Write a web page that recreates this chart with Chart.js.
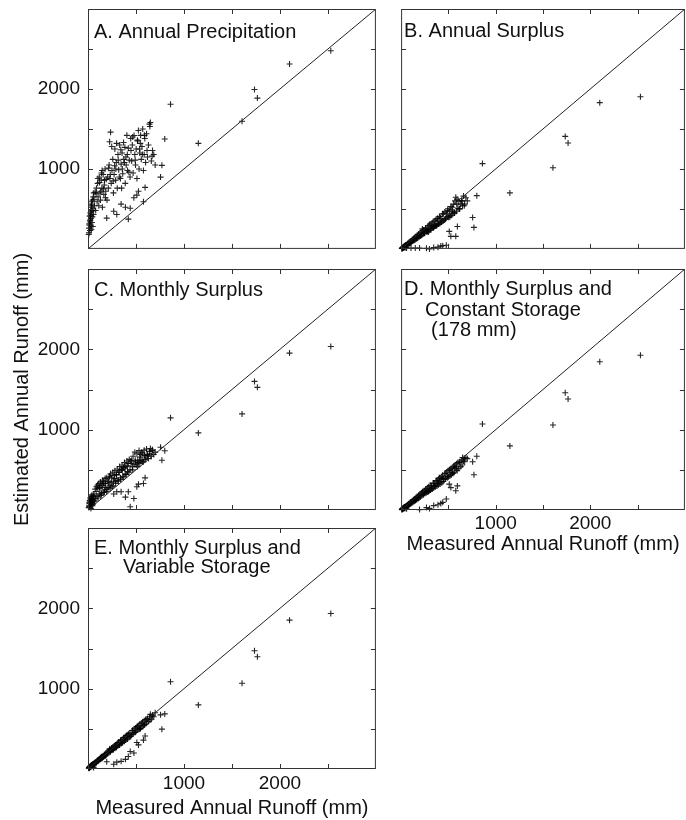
<!DOCTYPE html>
<html>
<head>
<meta charset="utf-8">
<script src="https://cdn.jsdelivr.net/npm/chart.js@4.4.1/dist/chart.umd.min.js"></script>
<style>
  html, body { margin: 0; padding: 0; background: #fff; overflow: hidden; }
  body { width: 686px; height: 820px; position: relative; }
  canvas { position: absolute; }
</style>
</head>
<body>
<canvas id="panelA"></canvas>
<canvas id="panelB"></canvas>
<canvas id="panelC"></canvas>
<canvas id="panelD"></canvas>
<canvas id="panelE"></canvas>
<script>
// measured annual runoff (mm) per basin, same basins in every panel
const measured = [
  8, 12, 15, 18, 20, 22, 25, 28, 30, 32, 35, 38, 40, 42, 45, 48, 50, 52, 55, 58, 10, 14, 24, 34, 44, 27, 36, 60,
  195, 268, 300, 345, 390, 420, 440, 478, 509, 526, 578, 595,
  62, 68, 75, 80, 88, 95, 100, 105, 112, 118, 125, 130, 138, 145, 150, 158, 165, 170, 178, 185, 190, 198, 85, 120, 160, 140,
  205, 212, 220, 228, 235, 242, 250, 258, 265, 272, 280, 288, 295, 305, 312, 320, 330, 338, 345, 355, 362, 370, 380, 388, 395, 405, 412, 420, 430, 438, 445, 225, 290, 350,
  455, 462, 470, 480, 488, 495, 502, 510, 518, 525, 532, 540, 548, 555, 562, 570, 578, 585, 592, 600, 610, 620, 630, 640, 650, 660, 672, 685, 700, 545,
  103, 133, 147, 172, 182, 215, 232, 247, 262, 277, 298, 315, 326, 342, 358, 373, 384, 398, 410, 426, 448, 466, 492, 515, 538, 566, 588, 615, 645, 668,
  756, 770, 800, 860, 1150, 1605, 1735, 1765, 2100, 2530
];

// A. estimated from annual precipitation
const estPrecip = [
  180, 260, 320, 410, 230, 350, 450, 290, 380, 520, 240, 470, 330, 560, 400, 610, 280, 500, 650, 430, 200, 300, 360, 540, 480, 420, 590, 700,
  385, 470, 430, 560, 520, 372, 508, 640, 673, 720, 590, 769,
  620, 540, 710, 480, 760, 590, 820, 650, 540, 900, 700, 610, 860, 760, 520, 930, 680, 800, 1000, 720, 870, 610, 690, 830, 750, 950,
  900, 760, 1050, 880, 1460, 820, 980, 1120, 700, 930, 1250, 860, 1080, 760, 1180, 990, 1300, 880, 1060, 1200, 940, 1330, 1080, 820, 1150, 1420, 980, 1260, 1110, 900, 1380, 1340, 1000, 760,
  1100, 1300, 950, 1418, 1180, 1050, 1250, 880, 1350, 1480, 1000, 1200, 1420, 1120, 1280, 1500, 980, 1180, 1380, 1080, 1440, 1150, 1300, 1560, 1580, 1100, 1230, 1180, 1050, 1320,
  880, 720, 980, 860, 640, 1010, 930, 1280, 850, 1040, 1320, 1110, 900, 1240, 1000, 1120, 1270, 1050, 1180, 960, 1230, 1400, 1110, 1360, 1250, 1180, 1420, 1230, 1530, 1160,
  898, 1045, 1374, 1808, 1320, 1597, 1994, 1886, 2313, 2478
];

// B. annual surplus
const estAnnualSurplus = [
  5, 10, 8, 15, 20, 12, 18, 25, 22, 30, 28, 35, 15, 40, 38, 45, 20, 48, 50, 10, 6, 12, 26, 30, 35, 24, 32, 55,
  12, 8, 0, 18, 22, 35, 40, 45, 219, 157, 157, 280,
  45, 66, 55, 80, 68, 92, 78, 12, 88, 118, 98, 128, 108, 142, 10, 155, 130, 170, 140, 182, 150, 195, 70, 100, 128, 132,
  160, 210, 175, 228, 190, 235, 200, 262, 215, 240, 225, 290, 230, 310, 245, 290, 260, 340, 270, 300, 285, 372, 295, 350, 310, 405, 320, 380, 335, 440, 350, 250, 210, 280,
  360, 460, 380, 440, 400, 500, 395, 470, 420, 530, 420, 490, 440, 560, 450, 600, 645, 470, 620, 510, 600, 500, 560, 600, 540, 660, 560, 640, 600, 470,
  80, 128, 112, 140, 180, 170, 230, 195, 260, 215, 295, 250, 325, 265, 350, 290, 382, 310, 400, 335, 440, 370, 480, 400, 520, 450, 560, 500, 600, 540,
  393, 269, 666, 1067, 700, 1014, 1407, 1324, 1829, 1903
];

// C. monthly surplus
const estMonthlySurplus = [
  30, 60, 90, 120, 45, 150, 80, 110, 20, 170, 65, 130, 95, 190, 55, 140, 100, 75, 160, 125, 40, 85, 105, 135, 70, 115, 145, 180,
  230, 200, 227, 227, 160, 227, 41, 144, 289, 322, 330, 400,
  200, 110, 260, 140, 290, 170, 310, 150, 330, 200, 270, 350, 190, 300, 370, 220, 330, 250, 390, 280, 400, 260, 230, 280, 350, 210,
  360, 280, 410, 310, 450, 340, 290, 470, 350, 430, 490, 330, 440, 510, 370, 470, 540, 400, 500, 560, 420, 530, 590, 450, 540, 610, 480, 580, 630, 500, 610, 420, 360, 500,
  620, 540, 670, 570, 720, 600, 560, 700, 620, 590, 740, 580, 690, 720, 620, 710, 600, 745, 660, 630, 760, 680, 640, 730, 765, 670, 750, 690, 720, 620,
  270, 180, 310, 220, 330, 350, 270, 400, 300, 390, 440, 360, 470, 380, 500, 410, 520, 440, 550, 470, 580, 500, 620, 540, 660, 600, 680, 690, 700, 740,
  782, 620, 737, 1147, 960, 1196, 1601, 1527, 1953, 2035
];

// D. monthly surplus and constant storage (178 mm)
const estConstStorage = [
  5, 12, 10, 18, 15, 20, 22, 28, 25, 30, 32, 35, 20, 38, 40, 42, 30, 45, 48, 15, 8, 14, 24, 32, 38, 26, 34, 55,
  5, 30, 20, 55, 65, 80, 95, 136, 322, 279, 239, 300,
  45, 64, 55, 78, 68, 92, 78, 100, 88, 115, 98, 128, 108, 140, 118, 155, 130, 168, 140, 180, 150, 194, 72, 102, 132, 128,
  165, 210, 180, 225, 190, 240, 205, 258, 215, 265, 225, 288, 235, 305, 250, 300, 262, 335, 275, 330, 290, 368, 300, 370, 315, 400, 325, 390, 340, 432, 355, 228, 230, 300,
  380, 455, 390, 470, 400, 490, 415, 500, 430, 515, 440, 530, 455, 545, 470, 560, 520, 575, 490, 590, 520, 600, 540, 620, 652, 610, 600, 650, 640, 470,
  85, 125, 120, 160, 150, 205, 195, 240, 220, 265, 250, 305, 270, 330, 300, 360, 330, 390, 350, 415, 390, 455, 420, 495, 460, 540, 510, 590, 560, 645,
  600, 438, 670, 1071, 798, 1059, 1460, 1381, 1845, 1927
];

// E. monthly surplus and variable storage
const estVarStorage = [
  10, 15, 20, 25, 18, 30, 28, 35, 32, 40, 38, 45, 30, 50, 48, 55, 42, 58, 62, 20, 12, 22, 35, 40, 52, 36, 46, 70,
  90, 60, 85, 95, 120, 155, 218, 200, 330, 300, 360, 410,
  58, 78, 70, 86, 82, 102, 95, 112, 105, 125, 118, 140, 130, 155, 140, 165, 152, 180, 165, 192, 178, 208, 80, 128, 150, 150,
  190, 225, 205, 240, 220, 255, 232, 270, 245, 285, 258, 300, 270, 318, 290, 335, 300, 350, 318, 365, 330, 385, 345, 400, 362, 420, 375, 430, 395, 450, 405, 250, 270, 330,
  430, 480, 440, 500, 455, 510, 470, 525, 485, 540, 495, 560, 510, 570, 525, 585, 540, 600, 555, 615, 570, 630, 590, 650, 680, 620, 670, 650, 700, 500,
  95, 140, 135, 175, 170, 225, 215, 260, 240, 290, 280, 330, 300, 360, 335, 390, 360, 415, 385, 440, 420, 480, 460, 525, 505, 575, 550, 620, 610, 660,
  674, 496, 686, 1087, 798, 1067, 1472, 1397, 1853, 1936
];

const axisRange = [0, 3000];
const tickMarks = [500, 1000, 1500, 2000, 2500];
const tickLabels = [1000, 2000];

const titleA = ['A. Annual Precipitation'];
const titleB = ['B. Annual Surplus'];
const titleC = ['C. Monthly Surplus'];
const titleD = ['D. Monthly Surplus and', 'Constant Storage', '(178 mm)'];
const titleE = ['E. Monthly Surplus and', 'Variable Storage'];
const yTitle = 'Estimated Annual Runoff (mm)';
const xTitle = 'Measured Annual Runoff (mm)';

const FONT = "'Liberation Sans', Arial, Helvetica, sans-serif";
Chart.defaults.font.family = FONT;
Chart.defaults.color = '#111';

const PAD_R = 3;

// chart area: left, top, width, height (page px); padT/xh = room above/below it in the canvas
const panels = [
  { id: 'panelA', est: estPrecip, title: titleA, box: [88, 9, 290, 242], yw: 88, padT: 9, xh: 3, yLabels: true, indent: [6], base: [29] },
  { id: 'panelB', est: estAnnualSurplus, title: titleB, box: [399, 9, 288, 242], yw: 3, padT: 9, xh: 3, indent: [3], base: [28] },
  // panel C carries the shared y title, so its canvas is taller than its plot
  { id: 'panelC', est: estMonthlySurplus, title: titleC, box: [88, 269, 290, 241], yw: 88, padT: 79, xh: 83, yLabels: true, yTitle: true, indent: [6], base: [27] },
  { id: 'panelD', est: estConstStorage, title: titleD, box: [399, 269, 288, 241], yw: 3, padT: 9, xh: 46, xLabels: true, xPad: 2, indent: [3, 24, 30], base: [26, 46.5, 67] },
  { id: 'panelE', est: estVarStorage, title: titleE, box: [88, 528, 290, 241], yw: 88, padT: 9, xh: 51, yLabels: true, xLabels: true, xPad: 3, indent: [6, 35], base: [25.5, 45] }
];

function pairs(xs, ys) {
  return xs.map((v, i) => ({ x: v, y: ys[i] }));
}

// box around the plot with short inward ticks on all four sides
const framePlugin = {
  id: 'frame',
  afterDraw(chart) {
    const { ctx, chartArea: a, scales } = chart;
    ctx.save();
    ctx.strokeStyle = '#333';
    ctx.lineWidth = 1;
    ctx.strokeRect(a.left + 0.5, a.top + 0.5, a.width - 1, a.height - 1);
    ctx.beginPath();
    tickMarks.forEach(v => {
      const px = Math.round(scales.x.getPixelForValue(v)) + 0.5;
      const py = Math.round(scales.y.getPixelForValue(v)) + 0.5;
      ctx.moveTo(px, a.bottom); ctx.lineTo(px, a.bottom - 5);
      ctx.moveTo(px, a.top); ctx.lineTo(px, a.top + 5);
      ctx.moveTo(a.left, py); ctx.lineTo(a.left + 5, py);
      ctx.moveTo(a.right, py); ctx.lineTo(a.right - 5, py);
    });
    ctx.stroke();
    ctx.restore();
  }
};

function titlePlugin(p) {
  return {
    id: 'panelTitle',
    afterDraw(chart) {
      const { ctx, chartArea: a } = chart;
      ctx.save();
      ctx.font = '20px ' + FONT;
      ctx.fillStyle = '#111';
      ctx.textBaseline = 'alphabetic';
      p.title.forEach((t, i) => ctx.fillText(t, a.left + p.indent[i], a.top + p.base[i]));
      ctx.restore();
    }
  };
}

function zeroPad(s) {
  s.paddingLeft = 0; s.paddingRight = 0; s.paddingTop = 0; s.paddingBottom = 0;
}

const diagonal = [{ x: axisRange[0], y: axisRange[0] }, { x: axisRange[1], y: axisRange[1] }];

panels.forEach(p => {
  const [left, top, w, h] = p.box;
  const cv = document.getElementById(p.id);
  cv.width = p.yw + w + PAD_R;
  cv.height = p.padT + h + p.xh;
  cv.style.left = (left - p.yw) + 'px';
  cv.style.top = (top - p.padT) + 'px';

  new Chart(cv, {
    type: 'scatter',
    data: {
      datasets: [
        {
          type: 'line',
          data: diagonal,
          borderColor: '#222',
          borderWidth: 1,
          pointRadius: 0,
          fill: false
        },
        {
          data: pairs(measured, p.est),
          pointStyle: 'cross',
          pointRadius: 3,
          borderColor: 'rgba(0,0,0,0.85)',
          borderWidth: 1.1,
          clip: false
        }
      ]
    },
    options: {
      responsive: false,
      animation: false,
      devicePixelRatio: 1,
      events: [],
      layout: { padding: { top: p.padT, right: PAD_R, left: 0, bottom: 0 } },
      plugins: { legend: { display: false }, tooltip: { enabled: false } },
      scales: {
        x: {
          type: 'linear',
          min: axisRange[0],
          max: axisRange[1],
          afterBuildTicks: s => { s.ticks = tickLabels.map(v => ({ value: v })); },
          afterFit: s => { s.height = p.xh; zeroPad(s); },
          grid: { display: false, drawTicks: false },
          border: { display: false },
          ticks: { display: !!p.xLabels, autoSkip: false, maxRotation: 0, padding: p.xPad || 0, font: { size: 19 }, color: '#111', callback: v => String(v) },
          title: { display: !!p.xLabels, text: xTitle, font: { size: 20 }, color: '#111', padding: { top: 0, bottom: 0 } }
        },
        y: {
          type: 'linear',
          min: axisRange[0],
          max: axisRange[1],
          afterBuildTicks: s => { s.ticks = tickLabels.map(v => ({ value: v })); },
          afterFit: s => { s.width = p.yw; zeroPad(s); },
          grid: { display: false, drawTicks: false },
          border: { display: false },
          ticks: { display: !!p.yLabels, autoSkip: false, padding: 8, font: { size: 19 }, color: '#111', callback: v => String(v) },
          title: { display: !!p.yTitle, text: yTitle, font: { size: 20 }, color: '#111', padding: { top: 10, bottom: 0 } }
        }
      }
    },
    plugins: [framePlugin, titlePlugin(p)]
  });
});
</script>
</body>
</html>
